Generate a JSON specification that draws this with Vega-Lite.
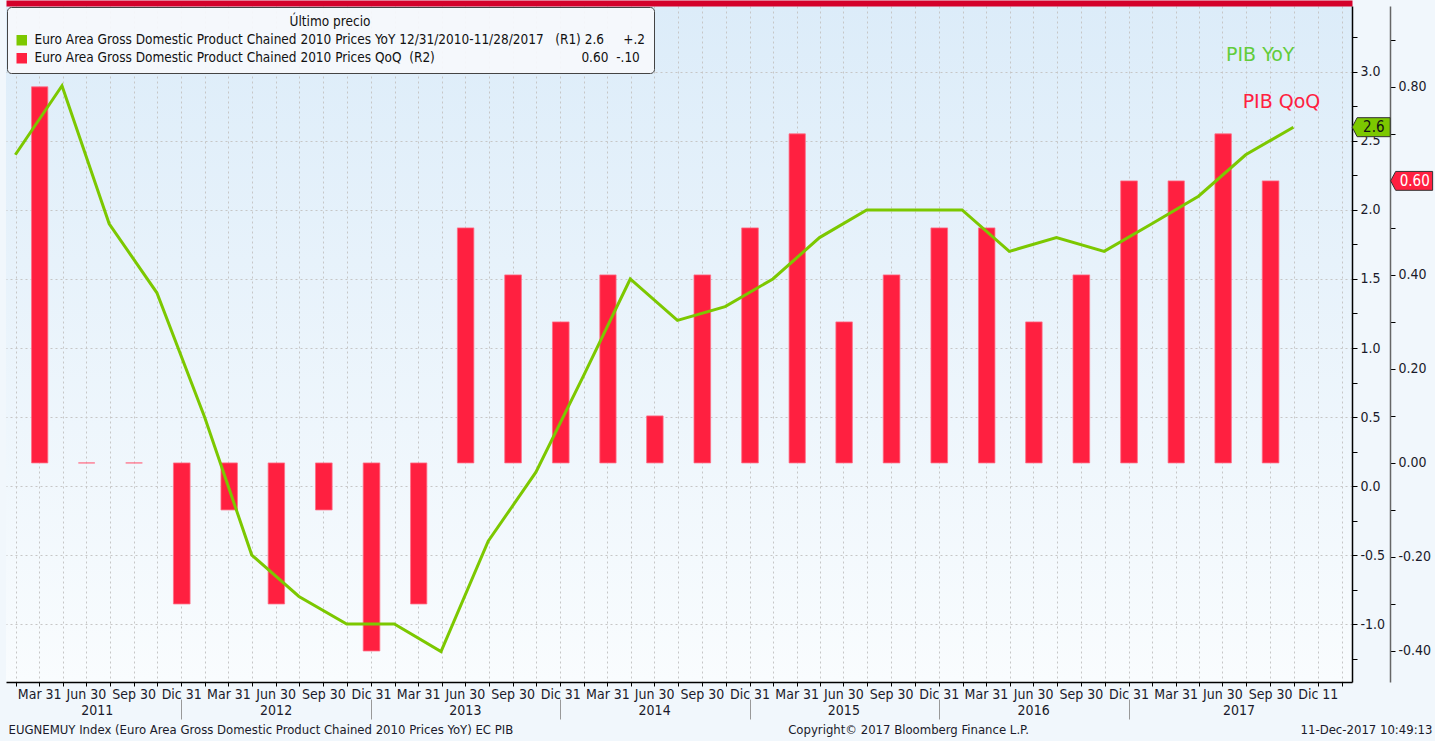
{
  "$schema": "https://vega.github.io/schema/vega-lite/v6.json",
  "autosize": {"type": "none"},
  "padding": {"left": 6, "top": 6, "right": 83, "bottom": 59},
  "width": 1346,
  "height": 676,
  "background": "#f1f7fc",
  "view": {"stroke": null, "fill": {"gradient": "linear", "x1": 0, "y1": 0, "x2": 0, "y2": 1, "stops": [{"offset": 0, "color": "#dcecf9"}, {"offset": 1, "color": "#f9fcfe"}]}},
  "config": {
    "font": "Liberation Sans Narrow, DejaVu Sans Condensed, Liberation Sans, sans-serif",
    "axis": {"labelFont": "Liberation Sans Narrow, DejaVu Sans Condensed, Liberation Sans, sans-serif", "labelFontSize": 14, "labelColor": "#1a1a2a", "titleFont": "Liberation Sans Narrow, DejaVu Sans Condensed, Liberation Sans, sans-serif", "titleFontSize": 14, "titleFontWeight": "normal", "titleColor": "#1a1a2a"},
    "legend": {"labelFont": "Liberation Sans Narrow, DejaVu Sans Condensed, Liberation Sans, sans-serif", "titleFont": "Liberation Sans Narrow, DejaVu Sans Condensed, Liberation Sans, sans-serif"}
  },
  "datasets": {
    "qoq": [
      {"d": "2011-03-31", "s": "QoQ", "v": 0.8},
      {"d": "2011-06-30", "s": "QoQ", "v": 0.0},
      {"d": "2011-09-30", "s": "QoQ", "v": 0.0},
      {"d": "2011-12-31", "s": "QoQ", "v": -0.3},
      {"d": "2012-03-31", "s": "QoQ", "v": -0.1},
      {"d": "2012-06-30", "s": "QoQ", "v": -0.3},
      {"d": "2012-09-30", "s": "QoQ", "v": -0.1},
      {"d": "2012-12-31", "s": "QoQ", "v": -0.4},
      {"d": "2013-03-31", "s": "QoQ", "v": -0.3},
      {"d": "2013-06-30", "s": "QoQ", "v": 0.5},
      {"d": "2013-09-30", "s": "QoQ", "v": 0.4},
      {"d": "2013-12-31", "s": "QoQ", "v": 0.3},
      {"d": "2014-03-31", "s": "QoQ", "v": 0.4},
      {"d": "2014-06-30", "s": "QoQ", "v": 0.1},
      {"d": "2014-09-30", "s": "QoQ", "v": 0.4},
      {"d": "2014-12-31", "s": "QoQ", "v": 0.5},
      {"d": "2015-03-31", "s": "QoQ", "v": 0.7},
      {"d": "2015-06-30", "s": "QoQ", "v": 0.3},
      {"d": "2015-09-30", "s": "QoQ", "v": 0.4},
      {"d": "2015-12-31", "s": "QoQ", "v": 0.5},
      {"d": "2016-03-31", "s": "QoQ", "v": 0.5},
      {"d": "2016-06-30", "s": "QoQ", "v": 0.3},
      {"d": "2016-09-30", "s": "QoQ", "v": 0.4},
      {"d": "2016-12-31", "s": "QoQ", "v": 0.6},
      {"d": "2017-03-31", "s": "QoQ", "v": 0.6},
      {"d": "2017-06-30", "s": "QoQ", "v": 0.7},
      {"d": "2017-09-30", "s": "QoQ", "v": 0.6}
    ],
    "yoy": [
      {"d": "2010-12-31", "v": 2.4},
      {"d": "2011-03-31", "v": 2.9},
      {"d": "2011-06-30", "v": 1.9},
      {"d": "2011-09-30", "v": 1.4},
      {"d": "2011-12-31", "v": 0.5},
      {"d": "2012-03-31", "v": -0.5},
      {"d": "2012-06-30", "v": -0.8},
      {"d": "2012-09-30", "v": -1.0},
      {"d": "2012-12-31", "v": -1.0},
      {"d": "2013-03-31", "v": -1.2},
      {"d": "2013-06-30", "v": -0.4},
      {"d": "2013-09-30", "v": 0.1},
      {"d": "2013-12-31", "v": 0.8},
      {"d": "2014-03-31", "v": 1.5},
      {"d": "2014-06-30", "v": 1.2},
      {"d": "2014-09-30", "v": 1.3},
      {"d": "2014-12-31", "v": 1.5},
      {"d": "2015-03-31", "v": 1.8},
      {"d": "2015-06-30", "v": 2.0},
      {"d": "2015-09-30", "v": 2.0},
      {"d": "2015-12-31", "v": 2.0},
      {"d": "2016-03-31", "v": 1.7},
      {"d": "2016-06-30", "v": 1.8},
      {"d": "2016-09-30", "v": 1.7},
      {"d": "2016-12-31", "v": 1.9},
      {"d": "2017-03-31", "v": 2.1},
      {"d": "2017-06-30", "v": 2.4},
      {"d": "2017-09-30", "v": 2.6}
    ],
    "notes": [
      {"d": "2017-07-28", "v": 3.12, "t": "PIB YoY"},
      {"d": "2017-09-07", "v": 2.78, "t": "PIB QoQ"}
    ],
    "one": [{"k": 1}]
  },
  "resolve": {"scale": {"y": "independent"}, "axis": {"x": "independent", "y": "independent"}},
  "layer": [
    {
      "data": {"name": "qoq"},
      "mark": {"type": "bar", "width": {"band": 0.37}, "stroke": "#ff6f86", "strokeWidth": 0.8},
      "encoding": {
        "x": {
          "field": "d", "type": "temporal", "timeUnit": "utcyearquarter",
          "scale": {"type": "utc", "domain": [{"year": 2010, "month": 12, "date": 13, "utc": true}, {"year": 2018, "month": 1, "date": 21, "utc": true}]},
          "axis": {"orient": "top", "offset": 3, "domain": true, "domainColor": "#d4002a", "domainWidth": 6, "ticks": false, "labels": false, "grid": false, "title": null}
        },
        "y": {
          "field": "v", "type": "quantitative",
          "scale": {"domain": [-0.466, 0.972], "nice": false, "zero": false},
          "axis": {
            "orient": "right",
            "offset": 38,
            "values": [-0.4, -0.3, -0.2, -0.1, 0, 0.1, 0.2, 0.3, 0.4, 0.5, 0.6, 0.7, 0.8, 0.9],
            "labelExpr": "round(datum.value * 10) % 2 == 0 && round(datum.value * 10) != 6 ? (datum.value < 0 ? '-' : '') + format(abs(datum.value), '.2f') : ''",
            "grid": false,
            "tickSize": 5,
            "tickColor": "#000000",
            "domainColor": "#666666",
            "domainWidth": 1.5,
            "labelPadding": 3,
            "labelOverlap": false,
            "labelFlush": false,
            "title": "11-Dec-2017 10:49:13",
            "titleAngle": 0,
            "titleX": 42,
            "titleY": 723,
            "titleAlign": "right",
            "titleBaseline": "middle",
            "titleAnchor": null,
            "titleFontSize": 13
          }
        },
        "color": {
          "field": "s", "type": "nominal",
          "scale": {"domain": ["YoY", "QoQ"], "range": ["#7cc800", "#ff2040"]},
          "legend": {
            "orient": "top-left",
            "offset": 1,
            "title": "Último precio",
            "titleAnchor": "middle",
            "titleFontWeight": "normal",
            "titleFontSize": 13.5,
            "titleColor": "#111111",
            "titlePadding": 5,
            "labelFontSize": 13.5,
            "labelColor": "#111111",
            "labelLimit": 900,
            "labelOffset": 6,
            "symbolType": "square",
            "symbolSize": 110,
            "symbolStrokeWidth": 0,
            "symbolOpacity": 1,
            "rowPadding": 3,
            "padding": 8,
            "fillColor": "rgba(246,249,252,0.92)",
            "strokeColor": "#444444",
            "cornerRadius": 4,
            "labelExpr": "datum.value == 'YoY' ? 'Euro Area Gross Domestic Product Chained 2010 Prices YoY 12/31/2010-11/28/2017\u00a0\u00a0\u00a0(R1) 2.6\u00a0\u00a0\u00a0\u00a0\u00a0+.2' : 'Euro Area Gross Domestic Product Chained 2010 Prices QoQ\u00a0\u00a0(R2)\u00a0\u00a0\u00a0\u00a0\u00a0\u00a0\u00a0\u00a0\u00a0\u00a0\u00a0\u00a0\u00a0\u00a0\u00a0\u00a0\u00a0\u00a0\u00a0\u00a0\u00a0\u00a0\u00a0\u00a0\u00a0\u00a0\u00a0\u00a0\u00a0\u00a0\u00a0\u00a0\u00a0\u00a0\u00a0\u00a0\u00a0\u00a00.60\u00a0\u00a0-.10'"
          }
        }
      }
    },
    {
      "data": {"name": "yoy"},
      "mark": {"type": "line", "color": "#7cc800", "strokeWidth": 3},
      "encoding": {
        "x": {
          "field": "d", "type": "temporal",
          "scale": {"type": "utc", "domain": [{"year": 2010, "month": 12, "date": 13, "utc": true}, {"year": 2018, "month": 1, "date": 21, "utc": true}]},
          "axis": {
            "orient": "bottom",
            "values": [
              {"year": 2011, "month": 1, "date": 1, "utc": true}, {"year": 2011, "month": 2, "date": 15, "utc": true}, {"year": 2011, "month": 4, "date": 1, "utc": true}, {"year": 2011, "month": 5, "date": 16, "utc": true}, {"year": 2011, "month": 7, "date": 1, "utc": true}, {"year": 2011, "month": 8, "date": 16, "utc": true}, {"year": 2011, "month": 10, "date": 1, "utc": true}, {"year": 2011, "month": 11, "date": 16, "utc": true},
              {"year": 2012, "month": 1, "date": 1, "utc": true}, {"year": 2012, "month": 2, "date": 15, "utc": true}, {"year": 2012, "month": 4, "date": 1, "utc": true}, {"year": 2012, "month": 5, "date": 16, "utc": true}, {"year": 2012, "month": 7, "date": 1, "utc": true}, {"year": 2012, "month": 8, "date": 16, "utc": true}, {"year": 2012, "month": 10, "date": 1, "utc": true}, {"year": 2012, "month": 11, "date": 16, "utc": true},
              {"year": 2013, "month": 1, "date": 1, "utc": true}, {"year": 2013, "month": 2, "date": 15, "utc": true}, {"year": 2013, "month": 4, "date": 1, "utc": true}, {"year": 2013, "month": 5, "date": 16, "utc": true}, {"year": 2013, "month": 7, "date": 1, "utc": true}, {"year": 2013, "month": 8, "date": 16, "utc": true}, {"year": 2013, "month": 10, "date": 1, "utc": true}, {"year": 2013, "month": 11, "date": 16, "utc": true},
              {"year": 2014, "month": 1, "date": 1, "utc": true}, {"year": 2014, "month": 2, "date": 15, "utc": true}, {"year": 2014, "month": 4, "date": 1, "utc": true}, {"year": 2014, "month": 5, "date": 16, "utc": true}, {"year": 2014, "month": 7, "date": 1, "utc": true}, {"year": 2014, "month": 8, "date": 16, "utc": true}, {"year": 2014, "month": 10, "date": 1, "utc": true}, {"year": 2014, "month": 11, "date": 16, "utc": true},
              {"year": 2015, "month": 1, "date": 1, "utc": true}, {"year": 2015, "month": 2, "date": 15, "utc": true}, {"year": 2015, "month": 4, "date": 1, "utc": true}, {"year": 2015, "month": 5, "date": 16, "utc": true}, {"year": 2015, "month": 7, "date": 1, "utc": true}, {"year": 2015, "month": 8, "date": 16, "utc": true}, {"year": 2015, "month": 10, "date": 1, "utc": true}, {"year": 2015, "month": 11, "date": 16, "utc": true},
              {"year": 2016, "month": 1, "date": 1, "utc": true}, {"year": 2016, "month": 2, "date": 15, "utc": true}, {"year": 2016, "month": 4, "date": 1, "utc": true}, {"year": 2016, "month": 5, "date": 16, "utc": true}, {"year": 2016, "month": 7, "date": 1, "utc": true}, {"year": 2016, "month": 8, "date": 16, "utc": true}, {"year": 2016, "month": 10, "date": 1, "utc": true}, {"year": 2016, "month": 11, "date": 16, "utc": true},
              {"year": 2017, "month": 1, "date": 1, "utc": true}, {"year": 2017, "month": 2, "date": 15, "utc": true}, {"year": 2017, "month": 4, "date": 1, "utc": true}, {"year": 2017, "month": 5, "date": 16, "utc": true}, {"year": 2017, "month": 7, "date": 1, "utc": true}, {"year": 2017, "month": 8, "date": 16, "utc": true}, {"year": 2017, "month": 10, "date": 1, "utc": true}, {"year": 2017, "month": 11, "date": 16, "utc": true},
              {"year": 2018, "month": 1, "date": 1, "utc": true}
            ],
            "labelExpr": "utcmonth(datum.value) == 1 ? 'Mar 31' : utcmonth(datum.value) == 4 ? 'Jun 30' : utcmonth(datum.value) == 7 ? 'Sep 30' : utcmonth(datum.value) == 10 ? (utcyear(datum.value) == 2017 ? 'Dic 11' : 'Dic 31') : ''",
            "labelOverlap": false,
            "labelFlush": false,
            "labelPadding": 1,
            "tickSize": 4,
            "tickColor": "#000000",
            "domainColor": "#000000",
            "domainWidth": 1.5,
            "grid": true,
            "gridColor": "#c6c6c6",
            "gridDash": [2, 3],
            "title": "EUGNEMUY Index (Euro Area Gross Domestic Product Chained 2010 Prices YoY) EC PIB",
            "titleX": 2,
            "titleY": 47,
            "titleAlign": "left",
            "titleAnchor": null,
            "titleBaseline": "middle",
            "titleFontSize": 13
          }
        },
        "y": {
          "field": "v", "type": "quantitative",
          "scale": {"domain": [-1.42, 3.478], "nice": false, "zero": false},
          "axis": {
            "orient": "right",
            "offset": 0,
            "values": [-1.25, -1, -0.75, -0.5, -0.25, 0, 0.25, 0.5, 0.75, 1, 1.25, 1.5, 1.75, 2, 2.25, 2.5, 2.75, 3, 3.25],
            "labelExpr": "datum.value % 0.5 == 0 ? (datum.value < 0 ? '-' : '') + format(abs(datum.value), '.1f') : ''",
            "labelOverlap": false,
            "labelFlush": false,
            "labelPadding": 3,
            "tickSize": 5,
            "tickColor": "#000000",
            "domainColor": "#000000",
            "domainWidth": 1.5,
            "grid": true,
            "gridColor": "#c6c6c6",
            "gridDash": [2, 3],
            "gridOpacity": {"condition": {"test": "datum.value % 0.5 != 0", "value": 0}, "value": 1},
            "title": null
          }
        }
      }
    },
    {
      "data": {"name": "notes"},
      "mark": {"type": "text", "font": "DejaVu Sans", "fontSize": 19, "align": "center", "baseline": "middle"},
      "encoding": {
        "x": {
          "field": "d", "type": "temporal",
          "scale": {"type": "utc", "domain": [{"year": 2010, "month": 12, "date": 13, "utc": true}, {"year": 2018, "month": 1, "date": 21, "utc": true}]},
          "axis": {
            "orient": "bottom",
            "offset": 17,
            "values": [
              {"year": 2011, "month": 6, "date": 6, "utc": true}, {"year": 2011, "month": 11, "date": 16, "utc": true},
              {"year": 2012, "month": 5, "date": 16, "utc": true}, {"year": 2012, "month": 11, "date": 16, "utc": true},
              {"year": 2013, "month": 5, "date": 16, "utc": true}, {"year": 2013, "month": 11, "date": 16, "utc": true},
              {"year": 2014, "month": 5, "date": 16, "utc": true}, {"year": 2014, "month": 11, "date": 16, "utc": true},
              {"year": 2015, "month": 5, "date": 16, "utc": true}, {"year": 2015, "month": 11, "date": 16, "utc": true},
              {"year": 2016, "month": 5, "date": 16, "utc": true}, {"year": 2016, "month": 11, "date": 16, "utc": true},
              {"year": 2017, "month": 6, "date": 16, "utc": true}
            ],
            "labelExpr": "utcmonth(datum.value) != 10 ? '' + utcyear(datum.value) : ''",
            "labelOverlap": false,
            "labelFlush": false,
            "labelPadding": -16,
            "domain": false,
            "grid": false,
            "tickSize": 20,
            "tickColor": "#999999",
            "tickOpacity": {"condition": {"test": "utcmonth(datum.value) != 10", "value": 0}, "value": 1},
            "title": "Copyright© 2017 Bloomberg Finance L.P.",
            "titleX": 902,
            "titleY": 30,
            "titleAlign": "center",
            "titleAnchor": null,
            "titleBaseline": "middle",
            "titleFontSize": 13
          }
        },
        "y": {"field": "v", "type": "quantitative", "scale": {"domain": [-1.42, 3.478], "nice": false, "zero": false}, "axis": null},
        "text": {"field": "t"},
        "color": {"condition": {"test": "datum.t == 'PIB YoY'", "value": "#62cc3a"}, "value": "#ff2040"}
      }
    },
    {
      "data": {"name": "one"},
      "layer": [
        {
          "mark": {"type": "point", "shape": "M-1,0L-0.74,-0.5L1,-0.5L1,0.5L-0.74,0.5Z", "size": 1444, "filled": true, "fill": "#7cc800", "stroke": "#333333", "strokeWidth": 1, "opacity": 1, "clip": false},
          "encoding": {
            "x": {"datum": {"year": 2018, "month": 2, "date": 27, "utc": true}, "type": "temporal", "scale": {"type": "utc", "domain": [{"year": 2010, "month": 12, "date": 13, "utc": true}, {"year": 2018, "month": 1, "date": 21, "utc": true}]}, "axis": null},
            "y": {"datum": 2.6, "type": "quantitative", "scale": {"domain": [-1.42, 3.478], "nice": false, "zero": false}, "axis": null}
          }
        },
        {
          "mark": {"type": "text", "text": "2.6", "fontSize": 15, "color": "#111111", "align": "center", "baseline": "middle", "clip": false},
          "encoding": {
            "x": {"datum": {"year": 2018, "month": 3, "date": 4, "utc": true}, "type": "temporal", "axis": null},
            "y": {"datum": 2.6, "type": "quantitative", "axis": null}
          }
        }
      ]
    },
    {
      "data": {"name": "one"},
      "layer": [
        {
          "mark": {"type": "point", "shape": "M-1,0L-0.76,-0.45L1,-0.45L1,0.45L-0.76,0.45Z", "size": 1764, "filled": true, "fill": "#ff2040", "stroke": "#333333", "strokeWidth": 1, "opacity": 1, "clip": false},
          "encoding": {
            "x": {"datum": {"year": 2018, "month": 5, "date": 16, "utc": true}, "type": "temporal", "scale": {"type": "utc", "domain": [{"year": 2010, "month": 12, "date": 13, "utc": true}, {"year": 2018, "month": 1, "date": 21, "utc": true}]}, "axis": null},
            "y": {"datum": 0.6, "type": "quantitative", "scale": {"domain": [-0.466, 0.972], "nice": false, "zero": false}, "axis": null}
          }
        },
        {
          "mark": {"type": "text", "text": "0.60", "fontSize": 15, "color": "#ffffff", "align": "center", "baseline": "middle", "clip": false},
          "encoding": {
            "x": {"datum": {"year": 2018, "month": 5, "date": 22, "utc": true}, "type": "temporal", "axis": null},
            "y": {"datum": 0.6, "type": "quantitative", "axis": null}
          }
        }
      ]
    }
  ]
}
